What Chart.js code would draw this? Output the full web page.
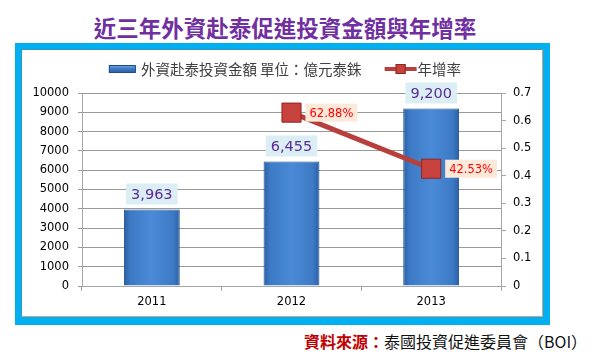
<!DOCTYPE html>
<html>
<head>
<meta charset="utf-8">
<script src="https://cdn.jsdelivr.net/npm/chart.js@4/dist/chart.umd.min.js"></script>
<style>
  html, body { margin:0; padding:0; background:#ffffff; }
  #wrap { position:relative; width:600px; height:358px; overflow:hidden; }
  #title { position:absolute; left:0; width:570px; top:12px; text-align:center;
    font-family:"Noto Sans CJK TC","Noto Sans CJK SC",sans-serif; font-weight:bold;
    font-size:22.5px; color:#7030a0; line-height:30px; }
  #frame { position:absolute; left:15px; top:43px; width:535px; height:282px; background:#00b0f0; }
  #inner { position:absolute; left:21px; top:49px; width:520px; height:266px; background:#ffffff;
    border-top:1px solid #3a93b8; border-left:1px solid #3a93b8;
    border-right:1px solid #c9a48c; border-bottom:1px solid #c9a48c; }
  #source { position:absolute; left:304px; top:329px; font-family:"Noto Sans CJK TC",sans-serif;
    font-size:16px; color:#111; line-height:24px; white-space:nowrap; }
  #source b { color:#c00000; }
  #c { position:absolute; left:0; top:0; }
</style>
</head>
<body>
<div id="wrap">
  <div id="title">近三年外資赴泰促進投資金額與年增率</div>
  <div id="frame"></div>
  <div id="inner"></div>
  <div id="source"><b>資料來源：</b>泰國投資促進委員會（BOI）</div>
  <canvas id="c" width="600" height="358"></canvas>
</div>
<script>
const years = ['2011', '2012', '2013'];
const investment = [3963, 6455, 9200];
const growth = [null, 0.6288, 0.4253];
const leftTicks = [0, 1000, 2000, 3000, 4000, 5000, 6000, 7000, 8000, 9000, 10000];
const rightTicks = [0, 0.1, 0.2, 0.3, 0.4, 0.5, 0.6, 0.7];
const barLabel = '外資赴泰投資金額 單位：億元泰銖';
const lineLabel = '年增率';

const BAR_PCT = 0.4;
const tickFont = { family: 'DejaVu Sans', size: 11.5 };

function barFill(ctx) {
  const chart = ctx.chart;
  const xs = chart.scales && chart.scales.x;
  if (!xs || ctx.dataIndex === undefined || !chart.chartArea) return '#3d7bc9';
  const cx = xs.getPixelForValue(ctx.dataIndex);
  const half = (xs.width / years.length) * BAR_PCT / 2;
  const g = chart.ctx.createLinearGradient(cx - half, 0, cx + half, 0);
  g.addColorStop(0, '#2c60a4');
  g.addColorStop(0.12, '#3d7ac6');
  g.addColorStop(0.5, '#4a8ad6');
  g.addColorStop(0.88, '#3d7ac6');
  g.addColorStop(1, '#2c60a4');
  return g;
}

function box(c, x, y, w, h, fill) {
  c.fillStyle = fill;
  c.fillRect(x, y, w, h);
}

const labelPlugin = {
  id: 'valueLabels',
  afterDatasetsDraw(chart) {
    const c = chart.ctx;
    c.save();
    const barMeta = chart.getDatasetMeta(0);
    c.font = '14.5px "DejaVu Sans"';
    c.textAlign = 'center';
    c.textBaseline = 'middle';
    barMeta.data.forEach((el, i) => {
      const txt = investment[i].toLocaleString('en-US');
      const w = c.measureText(txt).width + 10;
      const h = 21;
      const bottom = el.y - 5;
      box(c, el.x - w / 2, bottom - h, w, h, '#dbeef4');
      c.fillStyle = '#5b2a96';
      c.fillText(txt, el.x, bottom - h / 2 + 1);
    });
    const lineMeta = chart.getDatasetMeta(1);
    c.font = '11.5px "DejaVu Sans"';
    c.textAlign = 'left';
    lineMeta.data.forEach((el, i) => {
      if (growth[i] === null || el.skip) return;
      const txt = (growth[i] * 100).toFixed(2) + '%';
      const w = c.measureText(txt).width + 8;
      const h = 18;
      const left = el.x + 14;
      box(c, left, el.y - h / 2, w, h, '#fde9d9');
      c.fillStyle = '#ff0000';
      c.fillText(txt, left + 4, el.y + 1);
    });
    c.restore();
  }
};

const legendPlugin = {
  id: 'customLegend',
  afterDraw(chart) {
    const c = chart.ctx;
    c.save();
    c.font = '14.5px "Noto Sans CJK TC"';
    c.textBaseline = 'middle';
    c.textAlign = 'left';
    const ds = chart.data.datasets;
    const w1 = c.measureText(ds[0].label).width;
    const w2 = c.measureText(ds[1].label).width;
    const total = 27 + 5 + w1 + 23 + 32 + 1 + w2;
    let x = 285 - total / 2;
    const y = 69;
    const g = c.createLinearGradient(0, y - 4, 0, y + 4);
    g.addColorStop(0, '#6fa6e6');
    g.addColorStop(0.5, '#3c78c4');
    g.addColorStop(1, '#2a5c9e');
    c.fillStyle = g;
    c.fillRect(x, y - 3.5, 27, 7);
    c.strokeStyle = '#1f4e8c';
    c.lineWidth = 1;
    c.strokeRect(x + 0.5, y - 3.5, 26, 7);
    x += 27 + 5;
    c.fillStyle = '#404040';
    c.fillText(ds[0].label, x, y);
    x += w1 + 23;
    c.strokeStyle = '#b8403c';
    c.lineWidth = 4;
    c.beginPath();
    c.moveTo(x, y);
    c.lineTo(x + 32, y);
    c.stroke();
    c.fillStyle = '#c8423d';
    c.fillRect(x + 11, y - 5, 10, 10);
    c.strokeStyle = '#8e2622';
    c.lineWidth = 1;
    c.strokeRect(x + 11.5, y - 4.5, 9, 9);
    x += 33;
    c.fillStyle = '#404040';
    c.fillText(ds[1].label, x, y);
    c.restore();
  }
};

new Chart(document.getElementById('c'), {
  data: {
    labels: years,
    datasets: [
      {
        type: 'bar',
        label: barLabel,
        data: investment,
        yAxisID: 'y',
        backgroundColor: barFill,
        borderColor: '#1f4e8c',
        borderWidth: 1,
        barPercentage: BAR_PCT,
        categoryPercentage: 1,
        order: 2
      },
      {
        type: 'line',
        label: lineLabel,
        data: growth,
        yAxisID: 'y1',
        borderColor: '#b8403c',
        borderWidth: 5,
        pointStyle: 'rect',
        pointRadius: 13.5,
        pointHoverRadius: 13.5,
        pointBackgroundColor: '#c8423d',
        pointBorderColor: '#8e2622',
        pointBorderWidth: 1,
        spanGaps: false,
        tension: 0,
        order: 1
      }
    ]
  },
  options: {
    responsive: false,
    animation: false,
    events: [],
    layout: { padding: { top: 93, left: 0, right: 0, bottom: 0 } },
    plugins: { legend: { display: false }, title: { display: false }, tooltip: { enabled: false } },
    scales: {
      x: {
        offset: true,
        grid: { offset: true, drawOnChartArea: false, drawTicks: true, tickLength: 5, color: '#a6a6a6' },
        border: { display: true, color: '#a6a6a6', width: 1 },
        ticks: { font: tickFont, color: '#000000', padding: 4 },
        afterFit(s) { s.height = 72; }
      },
      y: {
        position: 'left',
        min: 0, max: 10000,
        afterBuildTicks(s) { s.ticks = leftTicks.map(v => ({ value: v })); },
        grid: { color: '#999999', tickLength: 4, drawTicks: true },
        border: { display: true, color: '#a6a6a6' },
        ticks: { font: tickFont, color: '#000000', padding: 9, callback: v => String(v) },
        afterFit(s) { s.width = 82; }
      },
      y1: {
        position: 'right',
        min: 0, max: 0.7,
        afterBuildTicks(s) { s.ticks = rightTicks.map(v => ({ value: v })); },
        grid: { drawOnChartArea: false, tickLength: 5, color: '#a6a6a6' },
        border: { display: true, color: '#a6a6a6' },
        ticks: { font: tickFont, color: '#000000', padding: 7, callback: v => String(Number(v.toFixed(1))) },
        afterFit(s) { s.width = 99; }
      }
    }
  },
  plugins: [labelPlugin, legendPlugin]
});
</script>
</body>
</html>
